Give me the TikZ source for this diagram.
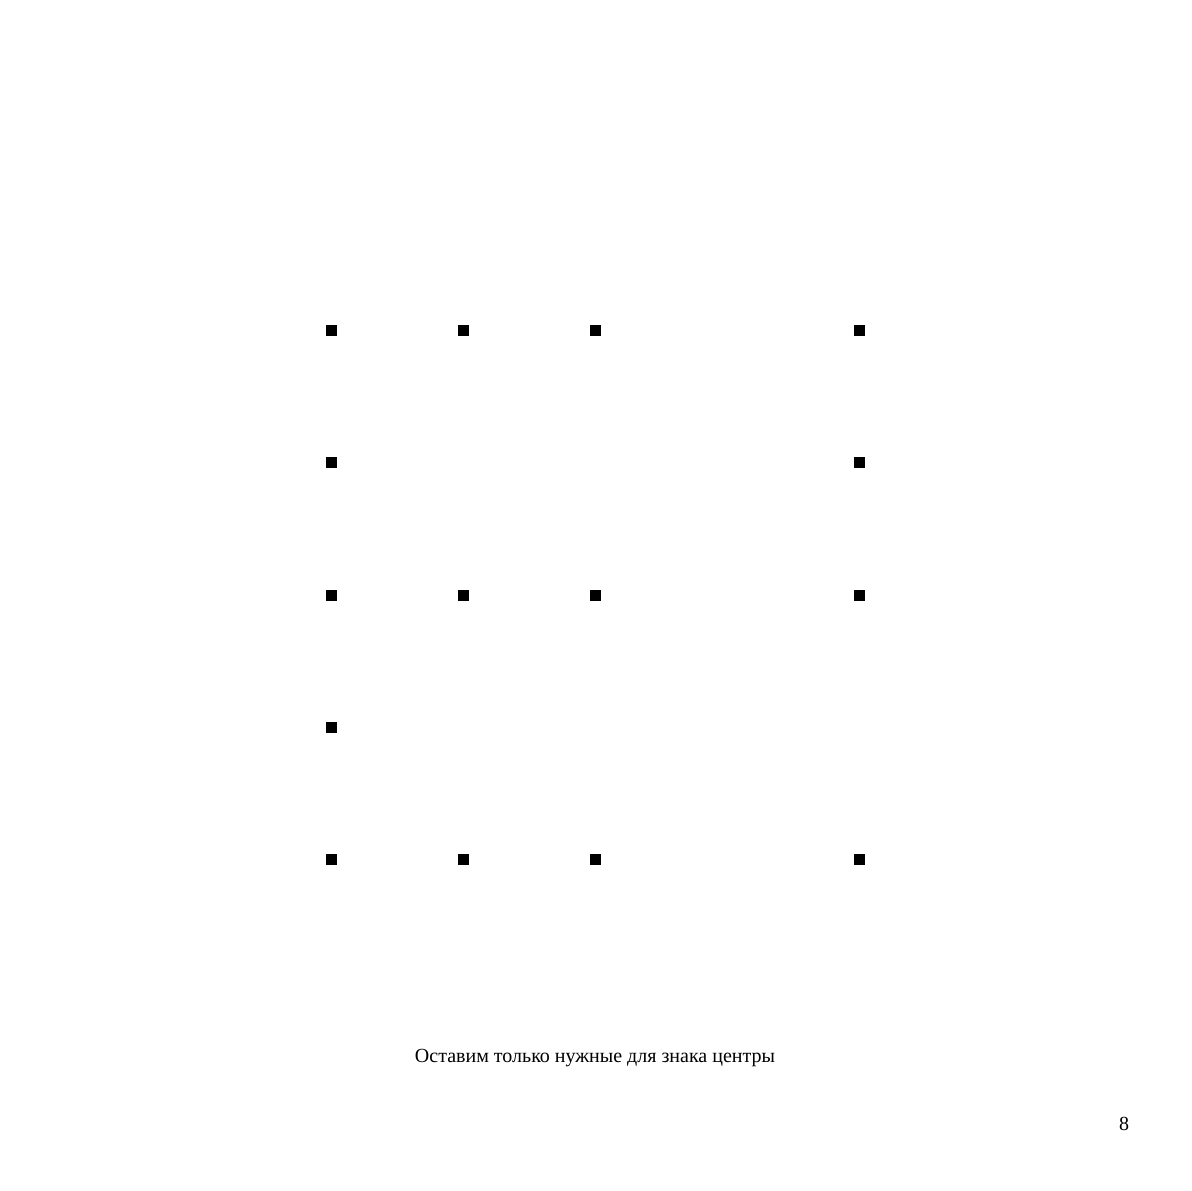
\documentclass[tikz,border=0pt]{standalone}
\usepackage{fontspec}
\setmainfont{Liberation Serif}
\begin{document}
\begin{tikzpicture}[x=1pt,y=-1pt,
  dot/.style={fill=black,draw=none,minimum size=11pt,inner sep=0pt,rectangle},
  txt/.style={font=\fontsize{20}{24}\selectfont,inner sep=0pt}]
\useasboundingbox[fill=white] (0,0) rectangle (1191,1191);
\foreach \x/\y/\n in {331/330/a1,463/330/a2,595/330/a3,859/330/a4,
  331/462/b1,859/462/b4,
  331/595/c1,463/595/c2,595/595/c3,859/595/c4,
  331/727/d1,
  331/859/e1,463/859/e2,595/859/e3,859/859/e4}
  \node[dot] (\n) at (\x,\y) {};
\node[txt] (cap) at (595,1058) {Оставим только нужные для знака центры};
\node[txt] (pg) at (1124,1124) {8};
\end{tikzpicture}
\end{document}
